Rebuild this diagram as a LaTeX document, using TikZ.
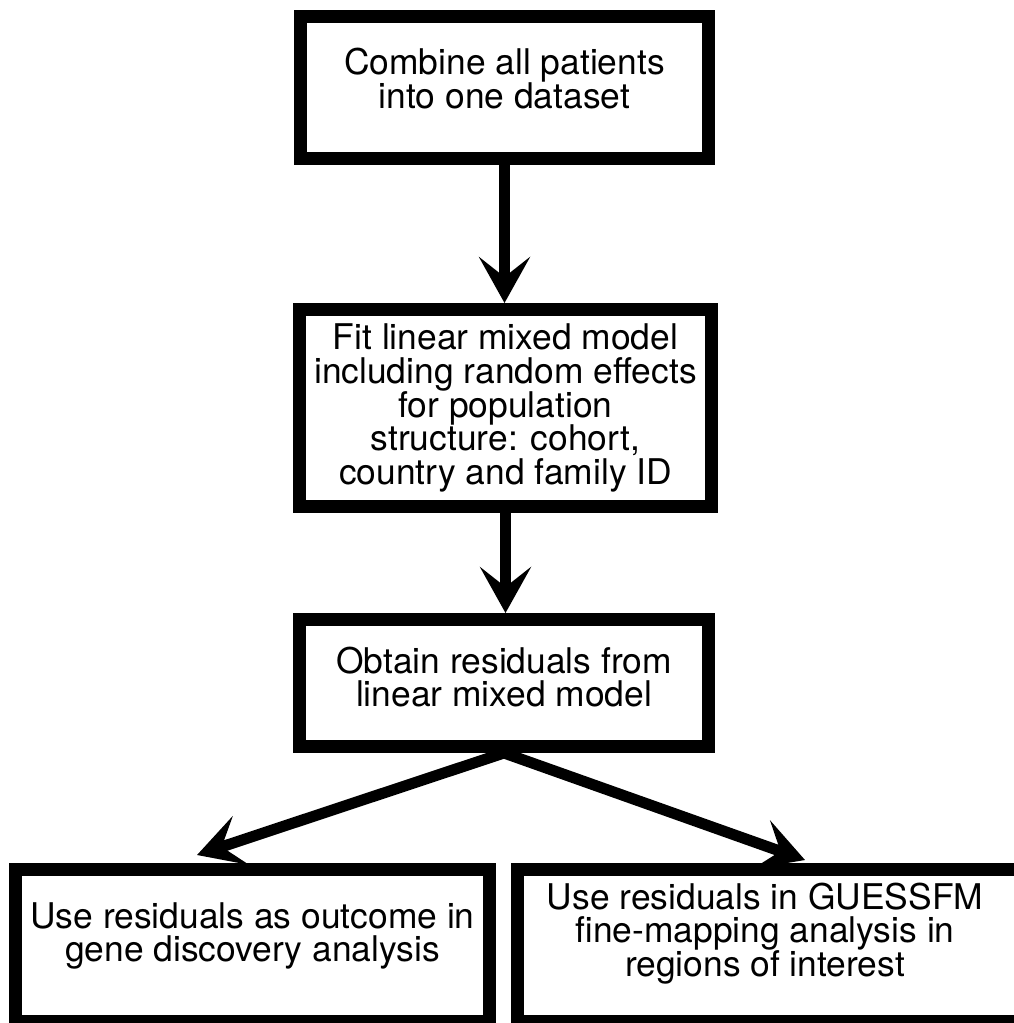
\documentclass[tikz,border=0pt]{standalone}
\usepackage{fontspec}
\setmainfont{TeX Gyre Heros}
\usetikzlibrary{arrows.meta,calc}

\tikzset{
  stepbox/.style={draw, line width=6.5pt, inner sep=0pt, fill=white},
  steptext/.style={align=center, inner sep=0pt, font=\fontsize{17.7pt}{16.9pt}\selectfont},
  flow/.style={line width=5.5pt, -{Stealth[length=23pt, width=25.5pt, inset=10pt]}}
}

\begin{document}
\begin{tikzpicture}[x=0.5pt, y=-0.5pt]
\useasboundingbox (0,0) rectangle (1013,1023);
% boxes
\node[stepbox, minimum width=204pt, minimum height=71pt] (combine) at (504.5,87.5) {};
\node[stepbox, minimum width=206pt, minimum height=98.5pt] (fit) at (505.5,408) {};
\node[stepbox, minimum width=204.5pt, minimum height=63.5pt] (obtain) at (504,683) {};
\node[stepbox, minimum width=237pt, minimum height=76pt] (gene) at (252.5,945.5) {};
\node[stepbox, minimum width=257.5pt, minimum height=76pt] (fine) at (775,945.5) {};
% texts
\node[steptext] (combine-txt) at ([yshift=4.5pt]combine.center) {Combine all patients\\into one dataset};
\node[steptext] (fit-txt) at (fit.center) {Fit linear mixed model\\including random effects\\for population\\structure: cohort,\\country and family ID};
\node[steptext] (obtain-txt) at ([yshift=3pt]obtain.center) {Obtain residuals from\\linear mixed model};
\node[steptext] (gene-txt) at ([yshift=4.75pt]gene.center) {Use residuals as outcome in\\gene discovery analysis};
\node[steptext] (fine-txt) at ([xshift=-5pt, yshift=6pt]fine.center) {Use residuals in GUESSFM\\fine-mapping analysis in\\regions of interest};
% arrows
\draw[flow] (combine.south) -- (combine.south |- fit.north);
\draw[flow] (fit.south) -- (fit.south |- obtain.north);
\draw[flow] (obtain.south) -- ([xshift=-27.75pt, yshift=4pt]gene.north);
\draw[flow] (obtain.south) -- ([xshift=15pt, yshift=1.5pt]fine.north);
\end{tikzpicture}
\end{document}
